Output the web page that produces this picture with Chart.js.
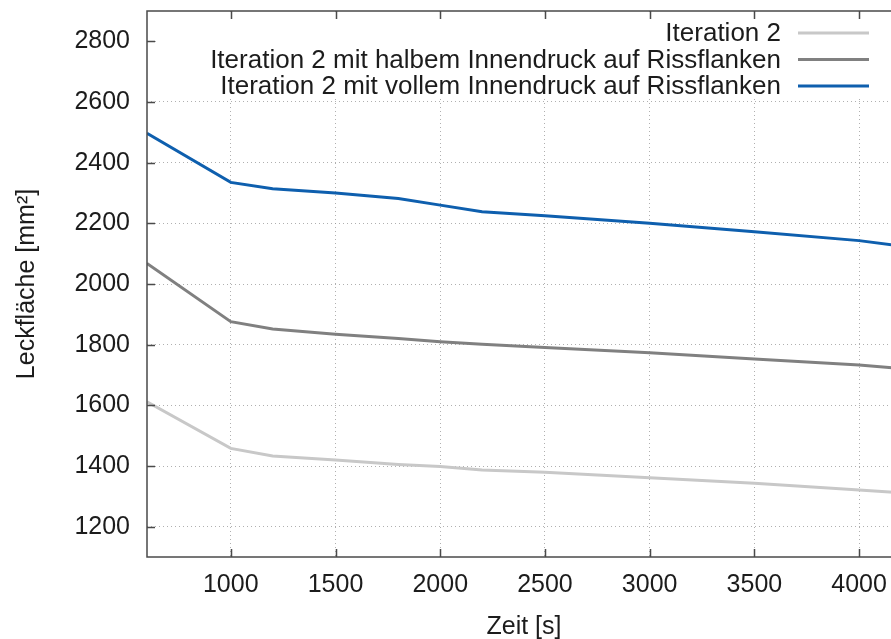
<!DOCTYPE html>
<html>
<head>
<meta charset="utf-8">
<script src="https://cdn.jsdelivr.net/npm/chart.js@4/dist/chart.umd.min.js"></script>
<style>
    html, body { margin: 0; padding: 0; background: #fff; overflow: hidden; }
    #wrap { position: absolute; left: 0; top: 0; width: 920px; height: 639px; }
</style>
</head>
<body>
<div id="wrap"><canvas id="leak-chart"></canvas></div>
<script>
// Leckfläche über Zeit, drei Varianten von Iteration 2.
const zeit = [600, 1000, 1200, 1500, 1800, 2000, 2200, 2500, 3000, 3500, 4000, 4200];
const iter2 = [1612, 1458, 1433, 1420, 1405, 1398, 1387, 1379, 1361, 1343, 1321, 1312];
const iter2Halb = [2068, 1876, 1852, 1834, 1820, 1810, 1801, 1791, 1773, 1753, 1733, 1721];
const iter2Voll = [2497, 2335, 2314, 2300, 2282, 2260, 2238, 2225, 2200, 2172, 2143, 2125];

const xTicks = [1000, 1500, 2000, 2500, 3000, 3500, 4000];
const yTicks = [1200, 1400, 1600, 1800, 2000, 2200, 2400, 2600, 2800];

const labels = [
    "Iteration 2",
    "Iteration 2 mit halbem Innendruck auf Rissflanken",
    "Iteration 2 mit vollem Innendruck auf Rissflanken",
];
const COLORS = ["#c8c8c8", "#808080", "#0e5fae"];
const TEXT = "#1c1c1c";
const FRAME = "#4a4a4a";

Chart.defaults.font.family = "'Liberation Sans', Arial, sans-serif";
Chart.defaults.font.size = 25;
Chart.defaults.color = TEXT;

const series = [iter2, iter2Halb, iter2Voll];

// gnuplot-artiger Rahmen, Ticks nach innen und Legende mit weißer Box
const gnuplotLook = {
    id: "gnuplotLook",
    beforeDatasetsDraw(chart) {
        const {ctx, chartArea: a} = chart;
        ctx.save();
        ctx.fillStyle = "#fff";
        ctx.fillRect(a.left + 10, a.top + 1, a.right - a.left - 10, 85);
        ctx.restore();
    },
    afterDraw(chart) {
        const {ctx, chartArea: a, scales} = chart;
        ctx.save();
        ctx.strokeStyle = FRAME;
        ctx.lineWidth = 1.5;
        ctx.strokeRect(a.left, a.top, a.right - a.left, a.bottom - a.top);
        ctx.beginPath();
        xTicks.forEach((v) => {
            const px = Math.round(scales.x.getPixelForValue(v)) + 0.5;
            ctx.moveTo(px, a.bottom); ctx.lineTo(px, a.bottom - 8);
            ctx.moveTo(px, a.top); ctx.lineTo(px, a.top + 8);
        });
        yTicks.forEach((v) => {
            const py = Math.round(scales.y.getPixelForValue(v)) + 0.5;
            ctx.moveTo(a.left, py); ctx.lineTo(a.left + 8, py);
            ctx.moveTo(a.right, py); ctx.lineTo(a.right - 8, py);
        });
        ctx.stroke();

        // Legende: Text rechtsbündig, Linienmuster rechts daneben
        ctx.font = "26px 'Liberation Sans', Arial, sans-serif";
        ctx.fillStyle = TEXT;
        ctx.textAlign = "right";
        ctx.textBaseline = "middle";
        labels.forEach((lab, i) => {
            const y = a.top + 22 + i * 26.5;
            ctx.fillText(lab, a.right - 120, y + 1);
            ctx.strokeStyle = COLORS[i];
            ctx.lineWidth = 3;
            ctx.beginPath();
            ctx.moveTo(a.right - 103, y);
            ctx.lineTo(a.right - 32, y);
            ctx.stroke();
        });
        ctx.restore();
    },
};

const gridCommon = {color: "rgba(150,150,150,0.75)", lineWidth: 1, drawTicks: false};

new Chart(document.getElementById("leak-chart"), {
    type: "line",
    data: {
        datasets: series.map((s, i) => ({
            label: labels[i],
            data: zeit.map((t, j) => ({x: t, y: s[j]})),
            borderColor: COLORS[i],
            backgroundColor: COLORS[i],
            borderWidth: 3,
            pointRadius: 0,
            tension: 0,
        })),
    },
    options: {
        responsive: true,
        maintainAspectRatio: false,
        animation: false,
        layout: {padding: {left: 0, top: 11, right: 19, bottom: 0}},
        plugins: {legend: {display: false}, tooltip: {enabled: false}},
        scales: {
            x: {
                type: "linear",
                min: 600,
                max: 4200,
                afterBuildTicks: (sc) => { sc.ticks = xTicks.map((v) => ({value: v})); },
                afterFit: (sc) => { sc.height = 82; sc.paddingLeft = 0; sc.paddingRight = 0; },
                ticks: {padding: 13, maxRotation: 0, autoSkip: false, callback: (v) => String(v)},
                grid: gridCommon,
                border: {display: false, dash: [1, 3]},
                title: {display: true, text: "Zeit [s]", font: {size: 25, lineHeight: 1.1}, padding: {top: 0, bottom: -2}},
            },
            y: {
                min: 1100,
                max: 2900,
                afterBuildTicks: (sc) => { sc.ticks = yTicks.map((v) => ({value: v})); },
                afterFit: (sc) => { sc.width = 147; sc.paddingTop = 0; sc.paddingBottom = 0; },
                ticks: {padding: 17, callback: (v) => String(v)},
                grid: gridCommon,
                border: {display: false, dash: [1, 3]},
                title: {display: true, text: "Leckfläche [mm²]", font: {size: 25, lineHeight: 1.1}, padding: {top: 13, bottom: 0}},
            },
        },
    },
    plugins: [gnuplotLook],
});
</script>
</body>
</html>
